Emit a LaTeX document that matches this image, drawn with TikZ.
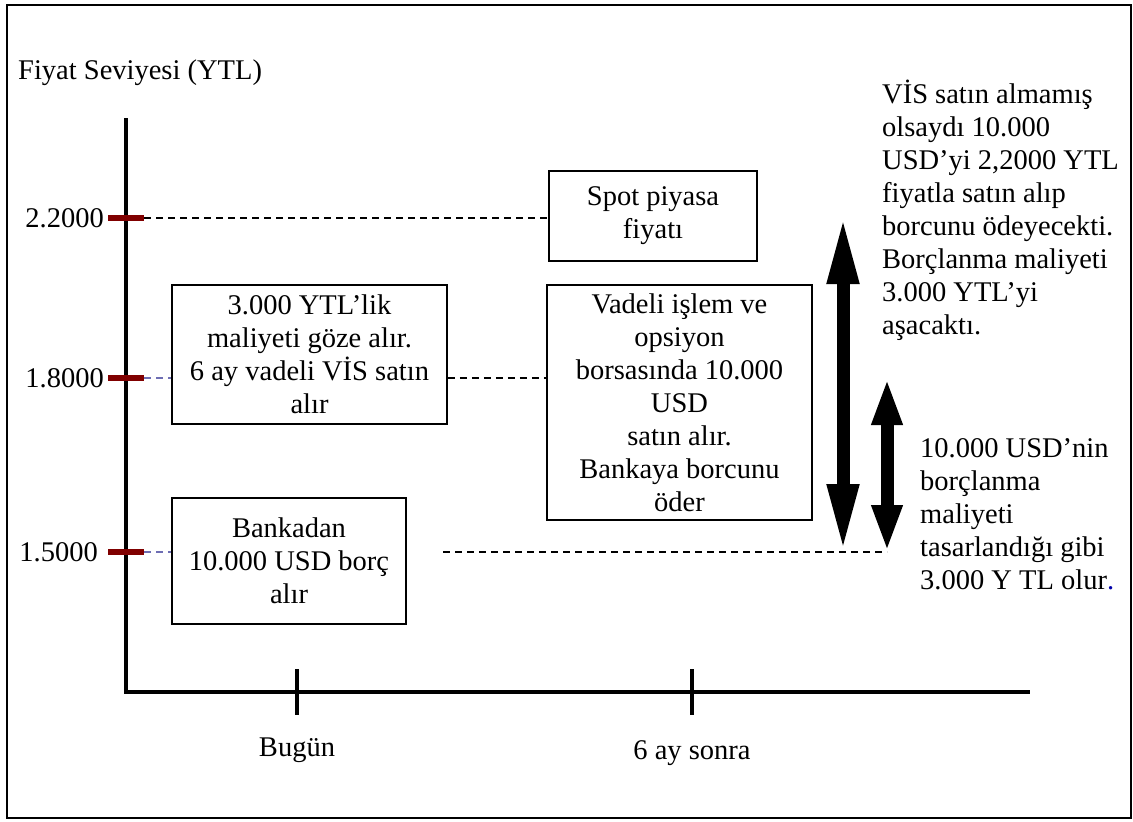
\documentclass[tikz,border=0pt]{standalone}
\usepackage{fontspec}
\setmainfont{Liberation Serif}
\usetikzlibrary{arrows.meta}
\definecolor{tickred}{RGB}{128,0,0}
\definecolor{dashblue}{RGB}{110,110,180}
\definecolor{dotblue}{RGB}{0,0,170}
\begin{document}
\begin{tikzpicture}[x=1pt,y=-1pt,
  font=\fontsize{28.5}{33}\selectfont,
  box/.style={draw, line width=1.6pt, align=center, inner sep=0pt},
  axisline/.style={line width=4pt, line join=miter},
  redtick/.style={line width=6pt, tickred},
  dashline/.style={line width=1.5pt, dash pattern=on 7pt off 5pt},
  bluedash/.style={line width=1.5pt, dashblue, dash pattern=on 7pt off 5pt},
  bigarrow/.style={line width=13pt, {Triangle[length=68pt,width=29pt]}-{Triangle[length=68pt,width=29pt]}},
  smallarrow/.style={line width=13pt, {Triangle[length=47pt,width=28pt]}-{Triangle[length=47pt,width=28pt]}},
  note/.style={anchor=north west, align=left, inner sep=0pt}]
\useasboundingbox (0,0) rectangle (1133,822);
\fill[white] (0,0) rectangle (1133,822);
\draw[line width=2pt] (7,5) rectangle (1131,818);

% title
\node[anchor=west, inner sep=0pt] (title) at (18,73) {Fiyat Seviyesi (YTL)};

% axes
\coordinate (ytop) at (126,118);
\coordinate (origin) at (126,692);
\coordinate (xend) at (1030,692);
\draw[axisline] (ytop) -- (origin) -- (xend);
\coordinate (bx) at (297,692);
\coordinate (sx) at (692,692);
\draw[axisline] ([yshift=23pt]bx) -- ([yshift=-23pt]bx);
\draw[axisline] ([yshift=23pt]sx) -- ([yshift=-23pt]sx);
\node (bugun) at (297,750) {Bugün};
\node (sonra) at (692,753) {6 ay sonra};

% price levels
\coordinate (s22) at (108,218); \coordinate (t22) at (144,218);
\coordinate (s18) at (108,378); \coordinate (t18) at (144,378);
\coordinate (s15) at (108,552); \coordinate (t15) at (144,552);
\draw[redtick] (s22) -- (t22);
\draw[redtick] (s18) -- (t18);
\draw[redtick] (s15) -- (t15);
\node[anchor=east, inner sep=0pt] (l22) at (104,218) {2.2000};
\node[anchor=east, inner sep=0pt] (l18) at (104,378) {1.8000};
\node[anchor=east, inner sep=0pt] (l15) at (98,552) {1.5000};

% boxes
\node[box, minimum width=208pt, minimum height=90pt] (spot) at (653,216) {Spot piyasa\\fiyatı};
\node[box, minimum width=275pt, minimum height=139pt] (vis) at (309.5,354.5) {3.000 YTL’lik\\maliyeti göze alır.\\6 ay vadeli VİS satın\\alır};
\node[box, minimum width=265pt, minimum height=235pt] (vadeli) at (679.5,402.5) {Vadeli işlem ve\\opsiyon\\borsasında 10.000\\USD\\satın alır.\\Bankaya borcunu\\öder};
\node[box, minimum width=234pt, minimum height=126pt] (bank) at (289,561) {Bankadan\\10.000 USD borç\\alır};

% dashed connectors
\draw[dashline] (t22) -- (spot.west |- t22);
\draw[bluedash] (t18) -- (vis.west |- t18);
\draw[dashline] (vis.east |- t18) -- (vadeli.west |- t18);
\draw[bluedash] (t15) -- (bank.west |- t15);

% arrows
\coordinate (a1t) at (843,216); \coordinate (a1b) at (843,552);
\coordinate (a2t) at (887,378); \coordinate (a2b) at (887,552);
\coordinate (d15) at (443,552);
\draw[dashline] (d15) -- (a2b);
\draw[bigarrow] (a1t) -- (a1b);
\draw[smallarrow] (a2t) -- (a2b);

% notes
\node[note] (note1) at (882,80) {VİS satın almamış\\olsaydı 10.000\\USD’yi 2,2000 YTL\\fiyatla satın alıp\\borcunu ödeyecekti.\\Borçlanma maliyeti\\3.000 YTL’yi\\aşacaktı.};
\node[note] (note2) at (920,438) {10.000 USD’nin\\borçlanma\\maliyeti\\tasarlandığı gibi\\3.000 Y TL olur\textcolor{dotblue}{.}};
\end{tikzpicture}
\end{document}
